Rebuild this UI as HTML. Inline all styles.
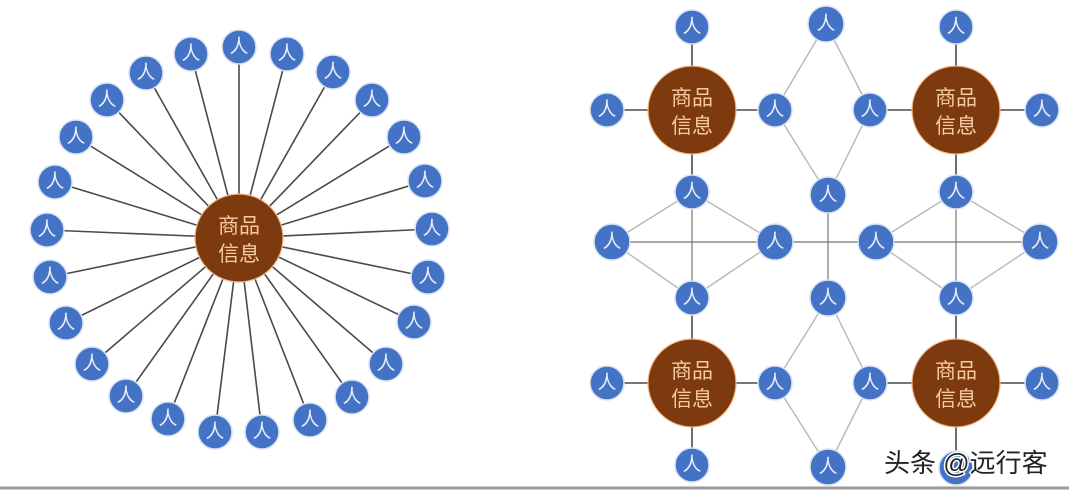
<!DOCTYPE html>
<html><head><meta charset="utf-8"><style>
html,body{margin:0;padding:0;background:#fff;}
svg{display:block}
text{font-family:"Liberation Sans","Noto Sans CJK SC",sans-serif;}
.p{fill:#4472c4;stroke:#d6e2f5;stroke-width:1.5}
.pt{fill:#e8eefa;font-size:19px;text-anchor:middle;dominant-baseline:central}
.b{fill:#7e3a0f;stroke:#f3b98a;stroke-width:1.2}
.bt{fill:#f6c9a2;font-size:21px;text-anchor:middle}
.d{stroke:#4a4a4a;stroke-width:1.6}
.l{stroke:#b8b8b8;stroke-width:1.4}
.m{stroke:#8a8a8a;stroke-width:1.4}
</style></head><body>
<svg width="1069" height="490" viewBox="0 0 1069 490">
<rect width="1069" height="490" fill="#fff"/>
<line x1="0" y1="488" x2="1069" y2="488" stroke="#9a9a9a" stroke-width="3"/>
<g class="d">
<line x1="239" y1="238" x2="239" y2="47"/><line x1="239" y1="238" x2="287" y2="54"/><line x1="239" y1="238" x2="333" y2="72"/><line x1="239" y1="238" x2="372" y2="100"/><line x1="239" y1="238" x2="404" y2="137"/><line x1="239" y1="238" x2="425" y2="181"/><line x1="239" y1="238" x2="432" y2="229"/><line x1="239" y1="238" x2="428" y2="277"/><line x1="239" y1="238" x2="414" y2="322"/><line x1="239" y1="238" x2="386" y2="364"/><line x1="239" y1="238" x2="352" y2="397"/><line x1="239" y1="238" x2="310" y2="420"/><line x1="239" y1="238" x2="262" y2="432"/><line x1="239" y1="238" x2="215" y2="432"/><line x1="239" y1="238" x2="168" y2="419"/><line x1="239" y1="238" x2="126" y2="396"/><line x1="239" y1="238" x2="92" y2="364"/><line x1="239" y1="238" x2="66" y2="323"/><line x1="239" y1="238" x2="50" y2="277"/><line x1="239" y1="238" x2="47" y2="230"/><line x1="239" y1="238" x2="55" y2="182"/><line x1="239" y1="238" x2="76" y2="137"/><line x1="239" y1="238" x2="107" y2="100"/><line x1="239" y1="238" x2="146" y2="73"/><line x1="239" y1="238" x2="191" y2="54"/>
</g>
<g class="l">
<line x1="826" y1="24" x2="775" y2="110"/><line x1="826" y1="24" x2="870" y2="110"/><line x1="775" y1="110" x2="828" y2="195"/><line x1="870" y1="110" x2="828" y2="195"/>
<line x1="692" y1="192" x2="612" y2="242"/><line x1="692" y1="192" x2="775" y2="242"/><line x1="612" y1="242" x2="692" y2="298"/><line x1="775" y1="242" x2="692" y2="298"/>
<line x1="956" y1="192" x2="876" y2="242"/><line x1="956" y1="192" x2="1040" y2="242"/><line x1="876" y1="242" x2="956" y2="298"/><line x1="1040" y1="242" x2="956" y2="298"/>
<line x1="828" y1="298" x2="775" y2="383"/><line x1="828" y1="298" x2="870" y2="383"/><line x1="775" y1="383" x2="828" y2="467"/><line x1="870" y1="383" x2="828" y2="467"/>
</g>
<g class="m">
<line x1="612" y1="242" x2="1040" y2="242"/><line x1="692" y1="192" x2="692" y2="298"/><line x1="956" y1="192" x2="956" y2="298"/><line x1="828" y1="195" x2="828" y2="298"/>
</g>
<g class="d">
<line x1="692" y1="27" x2="692" y2="192"/><line x1="607" y1="110" x2="775" y2="110"/>
<line x1="956" y1="27" x2="956" y2="192"/><line x1="870" y1="110" x2="1042" y2="110"/>
<line x1="692" y1="298" x2="692" y2="465"/><line x1="607" y1="383" x2="775" y2="383"/>
<line x1="956" y1="298" x2="956" y2="467"/><line x1="870" y1="383" x2="1042" y2="383"/>
</g>
<circle class="b" cx="239" cy="238" r="44"/><text class="bt" x="239" y="233">商品</text><text class="bt" x="239" y="261">信息</text>
<circle class="b" cx="692" cy="110" r="44"/><text class="bt" x="692" y="105">商品</text><text class="bt" x="692" y="133">信息</text>
<circle class="b" cx="956" cy="110" r="44"/><text class="bt" x="956" y="105">商品</text><text class="bt" x="956" y="133">信息</text>
<circle class="b" cx="692" cy="383" r="44"/><text class="bt" x="692" y="378">商品</text><text class="bt" x="692" y="406">信息</text>
<circle class="b" cx="956" cy="383" r="44"/><text class="bt" x="956" y="378">商品</text><text class="bt" x="956" y="406">信息</text>
<g>
<circle class="p" cx="239" cy="47" r="17"/><text class="pt" x="239" y="47">人</text>
<circle class="p" cx="287" cy="54" r="17"/><text class="pt" x="287" y="54">人</text>
<circle class="p" cx="333" cy="72" r="17"/><text class="pt" x="333" y="72">人</text>
<circle class="p" cx="372" cy="100" r="17"/><text class="pt" x="372" y="100">人</text>
<circle class="p" cx="404" cy="137" r="17"/><text class="pt" x="404" y="137">人</text>
<circle class="p" cx="425" cy="181" r="17"/><text class="pt" x="425" y="181">人</text>
<circle class="p" cx="432" cy="229" r="17"/><text class="pt" x="432" y="229">人</text>
<circle class="p" cx="428" cy="277" r="17"/><text class="pt" x="428" y="277">人</text>
<circle class="p" cx="414" cy="322" r="17"/><text class="pt" x="414" y="322">人</text>
<circle class="p" cx="386" cy="364" r="17"/><text class="pt" x="386" y="364">人</text>
<circle class="p" cx="352" cy="397" r="17"/><text class="pt" x="352" y="397">人</text>
<circle class="p" cx="310" cy="420" r="17"/><text class="pt" x="310" y="420">人</text>
<circle class="p" cx="262" cy="432" r="17"/><text class="pt" x="262" y="432">人</text>
<circle class="p" cx="215" cy="432" r="17"/><text class="pt" x="215" y="432">人</text>
<circle class="p" cx="168" cy="419" r="17"/><text class="pt" x="168" y="419">人</text>
<circle class="p" cx="126" cy="396" r="17"/><text class="pt" x="126" y="396">人</text>
<circle class="p" cx="92" cy="364" r="17"/><text class="pt" x="92" y="364">人</text>
<circle class="p" cx="66" cy="323" r="17"/><text class="pt" x="66" y="323">人</text>
<circle class="p" cx="50" cy="277" r="17"/><text class="pt" x="50" y="277">人</text>
<circle class="p" cx="47" cy="230" r="17"/><text class="pt" x="47" y="230">人</text>
<circle class="p" cx="55" cy="182" r="17"/><text class="pt" x="55" y="182">人</text>
<circle class="p" cx="76" cy="137" r="17"/><text class="pt" x="76" y="137">人</text>
<circle class="p" cx="107" cy="100" r="17"/><text class="pt" x="107" y="100">人</text>
<circle class="p" cx="146" cy="73" r="17"/><text class="pt" x="146" y="73">人</text>
<circle class="p" cx="191" cy="54" r="17"/><text class="pt" x="191" y="54">人</text>
<circle class="p" cx="692" cy="27" r="17"/><text class="pt" x="692" y="27">人</text>
<circle class="p" cx="826" cy="24" r="18"/><text class="pt" x="826" y="24">人</text>
<circle class="p" cx="956" cy="27" r="17"/><text class="pt" x="956" y="27">人</text>
<circle class="p" cx="607" cy="110" r="17"/><text class="pt" x="607" y="110">人</text>
<circle class="p" cx="775" cy="110" r="17"/><text class="pt" x="775" y="110">人</text>
<circle class="p" cx="870" cy="110" r="17"/><text class="pt" x="870" y="110">人</text>
<circle class="p" cx="1042" cy="110" r="17"/><text class="pt" x="1042" y="110">人</text>
<circle class="p" cx="692" cy="192" r="17"/><text class="pt" x="692" y="192">人</text>
<circle class="p" cx="828" cy="195" r="18"/><text class="pt" x="828" y="195">人</text>
<circle class="p" cx="956" cy="192" r="17"/><text class="pt" x="956" y="192">人</text>
<circle class="p" cx="612" cy="242" r="18"/><text class="pt" x="612" y="242">人</text>
<circle class="p" cx="775" cy="242" r="18"/><text class="pt" x="775" y="242">人</text>
<circle class="p" cx="876" cy="242" r="18"/><text class="pt" x="876" y="242">人</text>
<circle class="p" cx="1040" cy="242" r="18"/><text class="pt" x="1040" y="242">人</text>
<circle class="p" cx="692" cy="298" r="17"/><text class="pt" x="692" y="298">人</text>
<circle class="p" cx="828" cy="298" r="18"/><text class="pt" x="828" y="298">人</text>
<circle class="p" cx="956" cy="298" r="17"/><text class="pt" x="956" y="298">人</text>
<circle class="p" cx="607" cy="383" r="17"/><text class="pt" x="607" y="383">人</text>
<circle class="p" cx="775" cy="383" r="17"/><text class="pt" x="775" y="383">人</text>
<circle class="p" cx="870" cy="383" r="17"/><text class="pt" x="870" y="383">人</text>
<circle class="p" cx="1042" cy="383" r="17"/><text class="pt" x="1042" y="383">人</text>
<circle class="p" cx="692" cy="465" r="17"/><text class="pt" x="692" y="465">人</text>
<circle class="p" cx="828" cy="467" r="18"/><text class="pt" x="828" y="467">人</text>
<circle class="p" cx="956" cy="468" r="17"/>
</g>
<text x="884" y="472" font-size="26" fill="#222" stroke="#fff" stroke-width="3" paint-order="stroke">头条 @远行客</text>
</svg>
</body></html>
